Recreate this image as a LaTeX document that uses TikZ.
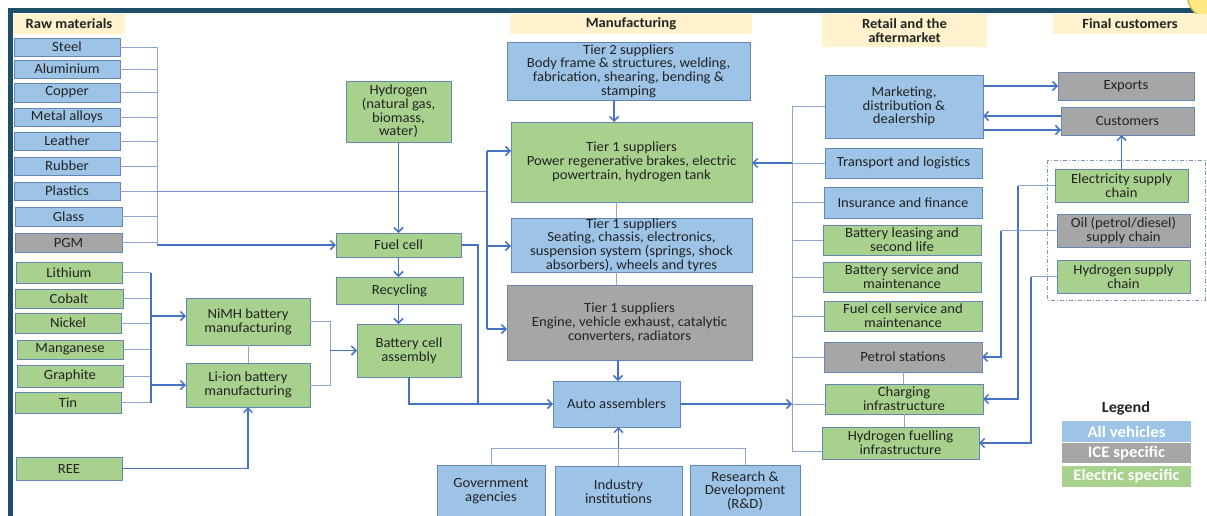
\documentclass[tikz,border=0pt]{standalone}
\usepackage{fontspec}
\setmainfont{Carlito}[FakeStretch=1.05]
\usetikzlibrary{arrows.meta}
\definecolor{framec}{RGB}{31,78,105}
\definecolor{bfill}{RGB}{157,195,230}
\definecolor{gfill}{RGB}{169,209,142}
\definecolor{xfill}{RGB}{166,166,166}
\definecolor{hfill}{RGB}{255,242,204}
\definecolor{bord}{RGB}{100,135,180}
\definecolor{lthin}{RGB}{140,165,210}
\definecolor{lthick}{RGB}{68,114,196}
\definecolor{txt}{RGB}{35,35,35}
\definecolor{ycirc}{RGB}{255,232,130}
\definecolor{ycircd}{RGB}{200,180,70}
\begin{document}
\begin{tikzpicture}[x=1pt,y=-1pt,
  box/.style={draw=bord, line width=0.7pt, align=center, inner sep=0.5pt, outer sep=0pt, text=txt, font=\fontsize{14}{13.7}\selectfont},
  bbox/.style={box, fill=bfill},
  gbox/.style={box, fill=gfill},
  xbox/.style={box, fill=xfill},
  sz/.style 2 args={minimum width=#1pt, minimum height=#2pt},
  hdr/.style={fill=hfill, align=center, inner sep=0pt, outer sep=0pt, font=\fontsize{14}{14.5}\selectfont\bfseries, text=txt},
  lgbox/.style={fill=#1, inner sep=0pt, minimum width=129pt, text=white, font=\fontsize{16}{16}\selectfont\bfseries},
  thinln/.style={draw=lthin, line width=0.8pt},
  midln/.style={draw=lthick!75, line width=1pt},
  thk/.style={draw=lthick, line width=1.5pt},
  arr/.style={thk, -{Straight Barb[length=4.5pt,width=9pt]}},
]
\fill[white] (0,0) rectangle (1207,515);
\useasboundingbox (0,0) rectangle (1207,515);

% frame
\draw[framec, line width=5pt] (1207,10) -- (10,10) -- (10,520);
\draw[draw=ycircd, fill=ycirc, line width=1.2pt] (1213,-6) circle[radius=26pt];

% headers
\node[hdr, sz={112}{20}] (hraw) at (69,24) {Raw materials};
\node[hdr, sz={242}{20}] (hman) at (631,24) {Manufacturing};
\node[hdr, sz={165}{33}] (hret) at (904.5,30.5) {Retail and the\\aftermarket};
\node[hdr, sz={154}{20}] (hfin) at (1130,24) {Final customers};

% raw materials
\node[bbox, sz={106}{18}] (steel) at (67,47) {Steel};
\node[bbox, sz={106}{18}] (alu) at (67,69) {Aluminium};
\node[bbox, sz={106}{19}] (cop) at (67,92.5) {Copper};
\node[bbox, sz={106}{18}] (met) at (67,117) {Metal alloys};
\node[bbox, sz={106}{18}] (lea) at (67,141) {Leather};
\node[bbox, sz={106}{18}] (rub) at (67,166) {Rubber};
\node[bbox, sz={106}{18}] (pla) at (67,191) {Plastics};
\node[bbox, sz={107}{19}] (gla) at (68.5,216.5) {Glass};
\node[xbox, sz={107}{19}] (pgm) at (68.5,242.5) {PGM};

\node[gbox, sz={106}{21}] (lith) at (69,272.5) {Lithium};
\node[gbox, sz={108}{19}] (cob) at (69,298.5) {Cobalt};
\node[gbox, sz={106}{20}] (nic) at (68,323) {Nickel};
\node[gbox, sz={106}{19}] (man) at (70,349.5) {Manganese};
\node[gbox, sz={106}{22}] (gra) at (70,376) {Graphite};
\node[gbox, sz={106}{21}] (tin) at (68,402.5) {Tin};
\node[gbox, sz={106}{23}] (ree) at (69,468.5) {REE};

\node[gbox, sz={124}{47}] (nimh) at (248,321.5) {NiMH battery\\manufacturing};
\node[gbox, sz={124}{44}] (liion) at (248,385) {Li-ion battery\\manufacturing};
\node[gbox, sz={105}{61}] (hyd) at (398.5,111.5) {Hydrogen\\(natural gas,\\biomass,\\water)};
\node[gbox, sz={125}{24}] (fuel) at (398.5,245) {Fuel cell};
\node[gbox, sz={127}{27}] (recyc) at (399.5,290.5) {Recycling};
\node[gbox, sz={104}{53}] (bca) at (409,350.5) {Battery cell\\assembly};

% manufacturing
\node[bbox, sz={243}{58}] (t2) at (628.5,71) {Tier 2 suppliers\\Body frame \& structures, welding,\\fabrication, shearing, bending \&\\stamping};
\node[gbox, sz={241}{80}] (t1g) at (631.5,162) {Tier 1 suppliers\\Power regenerative brakes, electric\\powertrain, hydrogen tank};
\node[bbox, sz={241}{54}] (t1b) at (631.5,245) {Tier 1 suppliers\\Seating, chassis, electronics,\\suspension system (springs, shock\\absorbers), wheels and tyres};
\node[xbox, sz={245}{75}] (t1x) at (629.5,322.5) {Tier 1 suppliers\\Engine, vehicle exhaust, catalytic\\converters, radiators};
\node[bbox, sz={127}{46}] (auto) at (616.5,404) {Auto assemblers};
\node[bbox, sz={108}{52}] (gov) at (491,491) {Government\\agencies};
\node[bbox, sz={127}{51}] (ind) at (618.5,491.5) {Industry\\institutions};
\node[bbox, sz={110}{52}] (rnd) at (745,491) {Research \&\\Development\\(R\&D)};

% retail
\node[bbox, sz={158}{63}] (mkt) at (904,106.5) {Marketing,\\distribution \&\\dealership};
\node[bbox, sz={157}{30}] (trans) at (903.5,163) {Transport and logistics};
\node[bbox, sz={158}{31}] (ins) at (903,202.5) {Insurance and finance};
\node[gbox, sz={158}{30}] (blease) at (902,240) {Battery leasing and\\second life};
\node[gbox, sz={158}{30}] (bserv) at (902,277) {Battery service and\\maintenance};
\node[gbox, sz={158}{30}] (fcs) at (903,316) {Fuel cell service and\\maintenance};
\node[xbox, sz={158}{30}] (pet) at (903,357) {Petrol stations};
\node[gbox, sz={158}{30}] (chg) at (904,399) {Charging\\infrastructure};
\node[gbox, sz={157}{32}] (hfi) at (900.5,443) {Hydrogen fuelling\\infrastructure};

% final customers
\node[xbox, sz={136}{28}] (exp) at (1126,86) {Exports};
\node[xbox, sz={133}{28}] (cust) at (1127.5,121) {Customers};
\node[gbox, sz={133}{33}] (elec) at (1121.5,185.5) {Electricity supply\\chain};
\node[xbox, sz={133}{33}] (oil) at (1123.5,230.5) {Oil (petrol/diesel)\\supply chain};
\node[gbox, sz={133}{33}] (hsc) at (1123.5,276.5) {Hydrogen supply\\chain};
\draw[draw=bord!85, line width=0.8pt, dash pattern=on 4pt off 2pt on 1pt off 2pt] (1047,160) rectangle (1205,300);

% legend
\node[font=\fontsize{15.5}{16}\selectfont\bfseries, text=txt] (lgt) at (1126,408) {Legend};
\node[lgbox=bfill, minimum height=21pt] (lg1) at (1126.5,431.5) {All vehicles};
\node[lgbox=xfill, minimum height=20pt] (lg2) at (1126.5,453) {ICE specific};
\node[lgbox=gfill, minimum height=21pt] (lg3) at (1126.5,476.5) {Electric specific};

% ---- connectors ----
\coordinate (rbT) at (157,47);
\coordinate (rbB) at (157,245);
\foreach \n in {steel,alu,cop,met,lea,rub,pla,gla,pgm} \draw[thinln] (\n.east) -- (\n.east -| rbT);
\draw[thinln] (rbT) -- (rbB);
\draw[arr] (rbB) -- (fuel.west);

\coordinate (cbA) at (487,151);
\coordinate (cbB) at (487,246);
\coordinate (cbC) at (487,329);
\draw[midln] (pla.east -| rbT) -- (pla.east -| cbA);
\draw[thk] (cbA) -- (cbC);
\draw[arr] (cbA) -- (cbA -| t1g.west);
\draw[arr] (cbB) -- (cbB -| t1b.west);
\draw[arr] (cbC) -- (cbC -| t1x.west);

\draw[arr] (hyd.south) -- (fuel.north);
\draw[arr] (fuel.south) -- (recyc.north -| fuel.south);
\draw[arr] (recyc.south -| fuel.south) -- (bca.north -| fuel.south);
\coordinate (fj) at (478,404);
\draw[thk] (fuel.east) -| (fj);
\draw[arr] (bca.south) |- (auto.west);

\coordinate (bbT) at (151,272.5);
\coordinate (bbB) at (151,402.5);
\coordinate (bbN) at (151,316);
\foreach \n in {lith,cob,nic,man,gra,tin} \draw[thinln] (\n.east) -- (\n.east -| bbT);
\draw[thk] (bbT) -- (bbB);
\draw[arr] (bbN) -- (bbN -| nimh.west);
\draw[arr] (bbT |- liion.west) -- (liion.west);
\draw[thinln] (nimh.south) -- (liion.north);
\coordinate (bj) at (330,350.5);
\draw[thinln] (nimh.east) -| (bj |- liion.east) -- (liion.east);
\draw[arr] (bj) -- (bca.west);
\draw[arr] (ree.east) -| (liion.south);

\coordinate (mx) at (614,0);
\coordinate (mxb) at (616,0);
\coordinate (mxc) at (618,0);
\draw[arr] (t2.south -| mx) -- (t1g.north -| mx);
\draw[thinln] (t1g.south -| mxb) -- (t1b.north -| mxb);
\draw[thinln] (t1b.south -| mxb) -- (t1x.north -| mxb);
\draw[arr] (t1x.south -| mxc) -- (auto.north -| mxc);

\coordinate (sj) at (618.5,448);
\draw[thinln] (gov.north) |- (sj) -| (rnd.north);
\draw[thinln] (ind.north) -- (sj);
\draw[arr] (sj) -- (sj |- auto.south);

\coordinate (rT) at (792,106.5);
\coordinate (rB) at (792,451);
\draw[thinln] (rT) -- (rB);
\foreach \n in {mkt,trans,ins,blease,bserv,fcs,pet} \draw[thinln] (\n.west -| rT) -- (\n.west);
\draw[thinln] (rB) -- (rB -| hfi.west);
\draw[arr] (auto.east) -- (auto.east -| rT);
\draw[thinln] (auto.east -| rT) -- (auto.east -| chg.west);
\draw[arr] (trans.west -| rT) -- (trans.west -| t1g.east);
\draw[thinln] (pet.south) -- (chg.north -| pet.south);
\draw[thinln] (chg.south) -- (hfi.north -| chg.south);

\coordinate (cu1) at ([yshift=5pt]cust.west);
\coordinate (cu2) at ([yshift=-9pt]cust.west);
\draw[arr] (exp.west -| mkt.east) -- (exp.west);
\draw[arr] (cu1) -- (cu1 -| mkt.east);
\draw[arr] (cu2 -| mkt.east) -- (cu2);
\draw[arr] (elec.north) -- (elec.north |- cust.south);

\coordinate (eX) at (1018,0);
\coordinate (oX) at (1001,0);
\coordinate (hX) at (1031,0);
\draw[thinln] (elec.west) -- (elec.west -| eX);
\draw[arr] (elec.west -| eX) |- (chg.east);
\draw[thinln] (oil.west) -- (oil.west -| oX);
\draw[arr] (oil.west -| oX) |- (pet.east);
\draw[thinln] (hsc.west) -- (hsc.west -| hX);
\draw[arr] (hsc.west -| hX) |- (hfi.east);
\end{tikzpicture}
\end{document}
